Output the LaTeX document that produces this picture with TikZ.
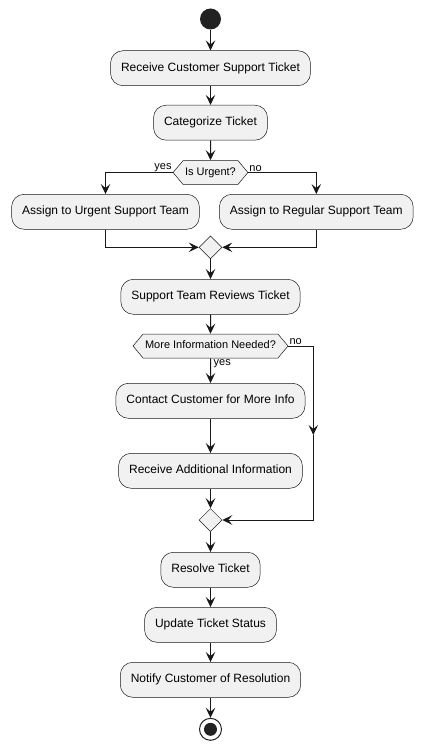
\documentclass[tikz,border=0pt]{standalone}
\usepackage{fontspec}
\setmainfont{Liberation Sans}
\usetikzlibrary{arrows.meta,shapes.symbols,shapes.geometric}
\definecolor{lc}{HTML}{181818}
\definecolor{bf}{HTML}{F1F1F1}
\definecolor{dk}{HTML}{222222}
\begin{document}
\begin{tikzpicture}[x=1pt,y=-1pt,
 act/.style={draw=lc, fill=bf, line width=0.5pt, rounded corners=12.5pt, font=\fontsize{12pt}{14pt}\selectfont, text height=9pt, text depth=3pt, inner xsep=10.5pt, inner ysep=11.5pt},
 dec/.style={signal, signal to=west and east, signal pointer angle=100, draw=lc, fill=bf, line width=0.5pt, font=\fontsize{11pt}{13pt}\selectfont, text height=8pt, text depth=2.5pt, inner xsep=2pt, inner ysep=6.75pt},
 mrg/.style={diamond, draw=lc, fill=bf, line width=0.5pt, minimum width=23pt, minimum height=23pt, inner sep=0pt},
 flow/.style={draw=lc, line width=1pt, -{Stealth[length=10pt,width=9.5pt,inset=4pt]}},
 lbl/.style={font=\fontsize{11pt}{13pt}\selectfont, inner sep=1pt, text=black}]
\useasboundingbox (0,0) rectangle (423,749);
% nodes
\node[circle, fill=dk, minimum size=21pt, inner sep=0pt] (start) at (210.5,19) {};
\node[act] (b1) at (210.5,68.2) {Receive Customer Support Ticket};
\node[act] (b2) at (210.5,122.7) {Categorize Ticket};
\node[dec] (h1) at (210.5,172.5) {Is Urgent?};
\node[act] (b3) at (105.5,211.8) {Assign to Urgent Support Team};
\node[act] (b4) at (316.3,211.8) {Assign to Regular Support Team};
\node[mrg] (m1) at (210.5,247.3) {};
\node[act] (b5) at (210.5,296.8) {Support Team Reviews Ticket};
\node[dec] (h2) at (210.5,346) {More Information Needed?};
\node[act] (b6) at (210.5,400.8) {Contact Customer for More Info};
\node[act] (b7) at (210.5,470.8) {Receive Additional Information};
\node[mrg] (m2) at (210.5,520) {};
\node[act] (b8) at (210.5,569.8) {Resolve Ticket};
\node[act] (b9) at (210.5,624.8) {Update Ticket Status};
\node[act] (b10) at (210.5,679.8) {Notify Customer of Resolution};
\node[circle, draw=dk, line width=1pt, fill=white, minimum size=22pt, inner sep=0pt] (end) at (210.5,729.3) {};
\node[circle, fill=dk, minimum size=13pt, inner sep=0pt] (endin) at (end) {};
\coordinate (n1) at (313.3,346);
\coordinate (n2) at (313.3,435);
\coordinate (n3) at (313.3,520);
% labels
\node[lbl, anchor=south east] (ly1) at (h1.west) {yes};
\node[lbl, anchor=south west] (ln1) at (h1.east) {no};
\node[lbl, anchor=south west] (ln2) at (h2.east) {no};
\node[lbl, anchor=north west] (ly2) at ([xshift=2pt]h2.south) {yes};
% connectors
\draw[flow] (start) -- (b1);
\draw[flow] (b1) -- (b2);
\draw[flow] (b2) -- (h1);
\draw[flow] (h1.west) -| (b3.north);
\draw[flow] (h1.east) -| (b4.north);
\draw[flow] (b3.south) |- (m1.west);
\draw[flow] (b4.south) |- (m1.east);
\draw[flow] (m1) -- (b5);
\draw[flow] (b5) -- (h2);
\draw[flow] (h2) -- (b6);
\draw[flow] (b6) -- (b7);
\draw[flow] (b7) -- (m2);
\draw[flow] (h2.east) -- (n1) -- (n2);
\draw[flow] (n2) -- (n3) -- (m2.east);
\draw[flow] (m2) -- (b8);
\draw[flow] (b8) -- (b9);
\draw[flow] (b9) -- (b10);
\draw[flow] (b10) -- (end);
\end{tikzpicture}
\end{document}
